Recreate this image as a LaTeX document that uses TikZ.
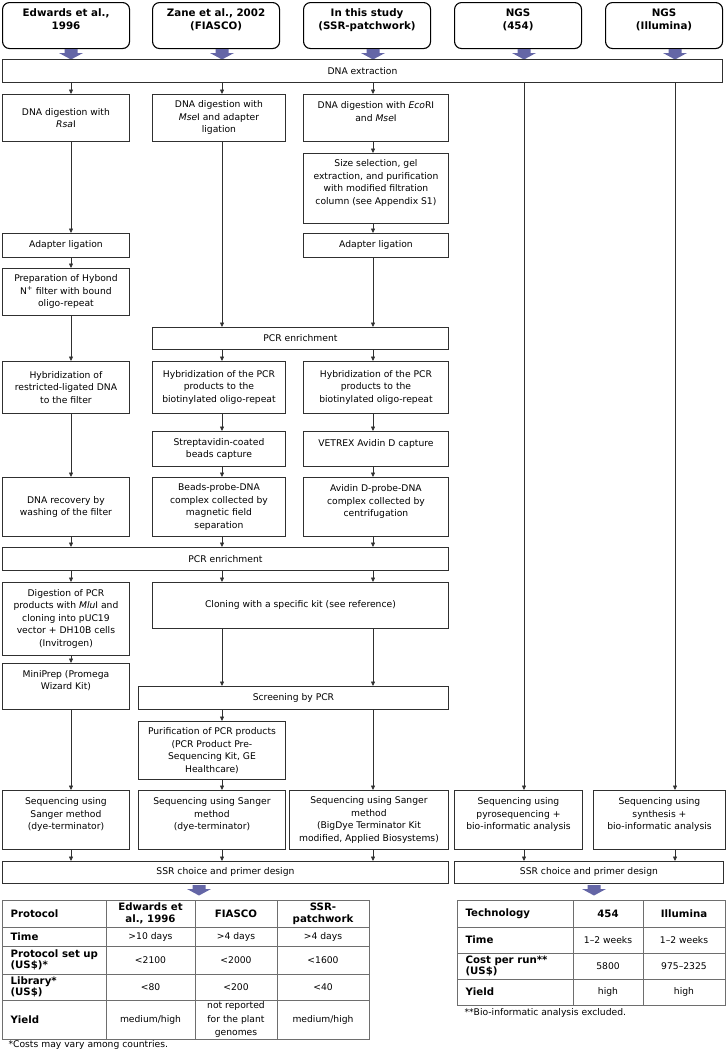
\documentclass[tikz,border=0pt]{standalone}
\usepackage{fontspec}
\setmainfont{DejaVu Sans}
\usetikzlibrary{arrows.meta,positioning}
\definecolor{fatblue}{HTML}{6466A6}
\definecolor{boxink}{HTML}{303030}
\definecolor{tabink}{HTML}{6E6E6E}
\newcommand{\pad}{\\\mbox{}}
\newcommand{\fatarrow}[2]{\fill[fatblue] (#1-6.5,#2) -- ++(13,0) -- ++(0,4) -- ++(5.5,0) -- (#1,#2+10.5) -- (#1-12,#2+4) -- ++(5.5,0) -- cycle;}

\begin{document}
\begin{tikzpicture}[x=1pt,y=-1pt,
  font=\fontsize{9.2}{12.5}\selectfont,
  box/.style={rectangle, draw=boxink, line width=0.9pt, anchor=north west,
              align=center, inner sep=0pt},
  head/.style={box, rounded corners=7pt, draw=black, line width=1.1pt,
               font=\fontsize{10.3}{12.5}\selectfont\bfseries,
               minimum width=127pt, minimum height=46pt},
  ar/.style={-{Triangle[length=4.5pt,width=4pt]}, boxink, line width=0.7pt},
  tab/.style={tabink, line width=0.9pt},
  cell/.style={align=center, font=\fontsize{9.2}{12}\selectfont},
  bcell/.style={cell, font=\fontsize{10.2}{12}\selectfont\bfseries},
  rowh/.style={anchor=west, align=left, font=\fontsize{10.2}{11.5}\selectfont\bfseries}]

  \useasboundingbox (0,0) rectangle (726,1052);
  \coordinate (c1) at (71,0);
  \coordinate (c2) at (222,0);
  \coordinate (c3) at (373,0);
  \coordinate (c4) at (524,0);
  \coordinate (c5) at (675,0);

  % protocols
  \node[head] (edw) at (2,2) {Edwards et al.,\\1996\pad};
  \node[head] (zane) at (152,2) {Zane et al., 2002\\(FIASCO)\pad};
  \node[head] (study) at (303,2) {In this study\\(SSR-patchwork)\pad};
  \node[head] (ngsA) at (454,2) {NGS\\(454)\pad};
  \node[head, minimum width=117pt] (ngsB) at (605,2) {NGS\\(Illumina)\pad};
  \foreach \x in {71,222,373,524,675} {\fatarrow{\x}{49}}

  \node[box, minimum width=720pt, minimum height=23pt] (dna) at (2,59) {DNA extraction};

  % lane Edwards
  \node[box, minimum width=127pt, minimum height=47pt] (digR) at (2,94) {DNA digestion with\\\textit{Rsa}I};
  \node[box, minimum width=127pt, minimum height=24pt] (adL) at (2,233) {Adapter ligation};
  \node[box, minimum width=127pt, minimum height=47pt] (hybond) at (2,268) {Preparation of Hybond\\N\textsuperscript{+} filter with bound\\oligo-repeat};
  \node[box, minimum width=127pt, minimum height=52pt] (hybA) at (2,361) {Hybridization of\\restricted-ligated DNA\\to the filter};
  \node[box, minimum width=127pt, minimum height=59pt] (recov) at (2,477) {DNA recovery by\\washing of the filter};
  \node[box, minimum width=446pt, minimum height=23pt] (pcrB) at (2,547) {PCR enrichment};
  \node[box, minimum width=127pt, minimum height=73pt] (mlu) at (2,582) {Digestion of PCR\\products with \textit{Mlu}I and\\cloning into pUC19\\vector + DH10B cells\\(Invitrogen)};
  \node[box, minimum width=127pt, minimum height=46pt] (mini) at (2,663) {MiniPrep (Promega\\Wizard Kit)\pad};
  \node[box, minimum width=127pt, minimum height=59pt] (seqA) at (2,790) {Sequencing using\\Sanger method\\(dye-terminator)\pad};
  \node[box, minimum width=446pt, minimum height=22pt] (ssrA) at (2,861) {SSR choice and primer design};

  % lane FIASCO
  \node[box, minimum width=133pt, minimum height=47pt] (digM) at (152,94) {DNA digestion with\\\textit{Mse}I and adapter\\ligation};
  \node[box, minimum width=296pt, minimum height=22pt] (pcrA) at (152,327) {PCR enrichment};
  \node[box, minimum width=133pt, minimum height=52pt] (hybB) at (152,361) {Hybridization of the PCR\\products to the\\biotinylated oligo-repeat};
  \node[box, minimum width=133pt, minimum height=35pt] (strep) at (152,431) {Streptavidin-coated\\beads capture};
  \node[box, minimum width=133pt, minimum height=59pt] (beads) at (152,477) {Beads-probe-DNA\\complex collected by\\magnetic field\\separation};
  \node[box, minimum width=296pt, minimum height=46pt] (clon) at (152,582) {Cloning with a specific kit (see reference)};
  \node[box, minimum width=310pt, minimum height=23pt] (scr) at (138,686) {Screening by PCR};
  \node[box, minimum width=147pt, minimum height=58pt] (purif) at (138,721) {Purification of PCR products\\(PCR Product Pre-\\Sequencing Kit, GE\\Healthcare)};
  \node[box, minimum width=147pt, minimum height=59pt] (seqB) at (138,790) {Sequencing using Sanger\\method\\(dye-terminator)\pad};

  % lane SSR-patchwork
  \node[box, minimum width=145pt, minimum height=47pt] (digE) at (303,94) {DNA digestion with \textit{Eco}RI\\and \textit{Mse}I\pad};
  \node[box, minimum width=145pt, minimum height=70pt] (size) at (303,153) {Size selection, gel\\extraction, and purification\\with modified filtration\\column (see Appendix S1)\pad};
  \node[box, minimum width=145pt, minimum height=24pt] (adR) at (303,233) {Adapter ligation};
  \node[box, minimum width=145pt, minimum height=52pt] (hybC) at (303,361) {Hybridization of the PCR\\products to the\\biotinylated oligo-repeat};
  \node[box, minimum width=145pt, minimum height=35pt] (vetrex) at (303,431) {VETREX Avidin D capture\pad};
  \node[box, minimum width=145pt, minimum height=59pt] (avidin) at (303,477) {Avidin D-probe-DNA\\complex collected by\\centrifugation\pad};
  \node[box, minimum width=159pt, minimum height=59pt] (seqC) at (289,790) {Sequencing using Sanger\\method\\(BigDye Terminator Kit\\modified, Applied Biosystems)};

  % lane NGS
  \node[box, minimum width=128pt, minimum height=59pt] (seqD) at (454,790) {Sequencing using\\pyrosequencing +\\bio-informatic analysis\pad};
  \node[box, minimum width=132pt, minimum height=59pt] (seqE) at (593,790) {Sequencing using\\synthesis +\\bio-informatic analysis\pad};
  \node[box, minimum width=269pt, minimum height=22pt] (ssrB) at (454,861) {SSR choice and primer design};

  % connectors
  \draw[ar] (dna.south -| c1) -- (digR.north -| c1);
  \draw[ar] (dna.south -| c2) -- (digM.north -| c2);
  \draw[ar] (dna.south -| c3) -- (digE.north -| c3);
  \draw[ar] (dna.south -| c4) -- (seqD.north -| c4);
  \draw[ar] (dna.south -| c5) -- (seqE.north -| c5);
  \draw[ar] (digR.south -| c1) -- (adL.north -| c1);
  \draw[ar] (adL.south -| c1) -- (hybond.north -| c1);
  \draw[ar] (hybond.south -| c1) -- (hybA.north -| c1);
  \draw[ar] (hybA.south -| c1) -- (recov.north -| c1);
  \draw[ar] (recov.south -| c1) -- (pcrB.north -| c1);
  \draw[ar] (digM.south -| c2) -- (pcrA.north -| c2);
  \draw[ar] (digE.south -| c3) -- (size.north -| c3);
  \draw[ar] (size.south -| c3) -- (adR.north -| c3);
  \draw[ar] (adR.south -| c3) -- (pcrA.north -| c3);
  \draw[ar] (pcrA.south -| c2) -- (hybB.north -| c2);
  \draw[ar] (pcrA.south -| c3) -- (hybC.north -| c3);
  \draw[ar] (hybB.south -| c2) -- (strep.north -| c2);
  \draw[ar] (strep.south -| c2) -- (beads.north -| c2);
  \draw[ar] (beads.south -| c2) -- (pcrB.north -| c2);
  \draw[ar] (hybC.south -| c3) -- (vetrex.north -| c3);
  \draw[ar] (vetrex.south -| c3) -- (avidin.north -| c3);
  \draw[ar] (avidin.south -| c3) -- (pcrB.north -| c3);
  \draw[ar] (pcrB.south -| c1) -- (mlu.north -| c1);
  \draw[ar] (pcrB.south -| c2) -- (clon.north -| c2);
  \draw[ar] (pcrB.south -| c3) -- (clon.north -| c3);
  \draw[ar] (mlu.south -| c1) -- (mini.north -| c1);
  \draw[ar] (mini.south -| c1) -- (seqA.north -| c1);
  \draw[ar] (clon.south -| c2) -- (scr.north -| c2);
  \draw[ar] (clon.south -| c3) -- (scr.north -| c3);
  \draw[ar] (scr.south -| c2) -- (purif.north -| c2);
  \draw[ar] (purif.south -| c2) -- (seqB.north -| c2);
  \draw[ar] (scr.south -| c3) -- (seqC.north -| c3);
  \draw[ar] (seqA.south -| c1) -- (ssrA.north -| c1);
  \draw[ar] (seqB.south -| c2) -- (ssrA.north -| c2);
  \draw[ar] (seqC.south -| c3) -- (ssrA.north -| c3);
  \draw[ar] (seqD.south -| c4) -- (ssrB.north -| c4);
  \draw[ar] (seqE.south -| c5) -- (ssrB.north -| c5);

  \fatarrow{199}{885}
  \fatarrow{594}{885}

  % table protocols
  \draw[tab] (2,900) rectangle (369,1039);
  \foreach \x in {106,195,277} \draw[tab] (\x,900) -- (\x,1039);
  \foreach \y in {927,946,974,1000} \draw[tab] (2,\y) -- (369,\y);
  \node[rowh] (pHead) at (7,913.5) {Protocol};
  \node[rowh] (pTime) at (7,936.5) {Time};
  \node[rowh] (pSet) at (7,960) {Protocol set up\\(US\$)*};
  \node[rowh] (pLib) at (7,987) {Library*\\(US\$)};
  \node[rowh] (pYield) at (7,1019.5) {Yield};
  \node[bcell] (hEdw) at (150.5,913.5) {Edwards et\\al., 1996};
  \node[bcell] (hFia) at (236,913.5) {FIASCO};
  \node[bcell] (hPat) at (323,913.5) {SSR-\\patchwork};
  \node[cell] (tEdw) at (150.5,936.5) {>10 days};
  \node[cell] (tFia) at (236,936.5) {>4 days};
  \node[cell] (tPat) at (323,936.5) {>4 days};
  \node[cell] (sEdw) at (150.5,960) {<2100};
  \node[cell] (sFia) at (236,960) {<2000};
  \node[cell] (sPat) at (323,960) {<1600};
  \node[cell] (lEdw) at (150.5,987) {<80};
  \node[cell] (lFia) at (236,987) {<200};
  \node[cell] (lPat) at (323,987) {<40};
  \node[cell] (yEdw) at (150.5,1019.5) {medium/high};
  \node[cell, font=\fontsize{9.2}{13.5}\selectfont] (yFia) at (236,1019.5) {not reported\\for the plant\\genomes};
  \node[cell] (yPat) at (323,1019.5) {medium/high};
  \node[anchor=west] (noteA) at (5,1045) {*Costs may vary among countries.};

  % table NGS
  \draw[tab] (457,900) rectangle (725,1005);
  \foreach \x in {573,643} \draw[tab] (\x,900) -- (\x,1005);
  \foreach \y in {927,953,979} \draw[tab] (457,\y) -- (725,\y);
  \node[rowh] (nHead) at (462,913.5) {Technology};
  \node[rowh] (nTime) at (462,940) {Time};
  \node[rowh] (nCost) at (462,966) {Cost per run**\\(US\$)};
  \node[rowh] (nYield) at (462,992) {Yield};
  \node[bcell] (hA) at (608,913.5) {454};
  \node[bcell] (hB) at (684,913.5) {Illumina};
  \node[cell] (tA) at (608,940) {1--2 weeks};
  \node[cell] (tB) at (684,940) {1--2 weeks};
  \node[cell] (cA) at (608,966) {5800};
  \node[cell] (cB) at (684,966) {975--2325};
  \node[cell] (yA) at (608,992) {high};
  \node[cell] (yB) at (684,992) {high};
  \node[anchor=west] (noteB) at (461,1013) {**Bio-informatic analysis excluded.};
\end{tikzpicture}
\end{document}
